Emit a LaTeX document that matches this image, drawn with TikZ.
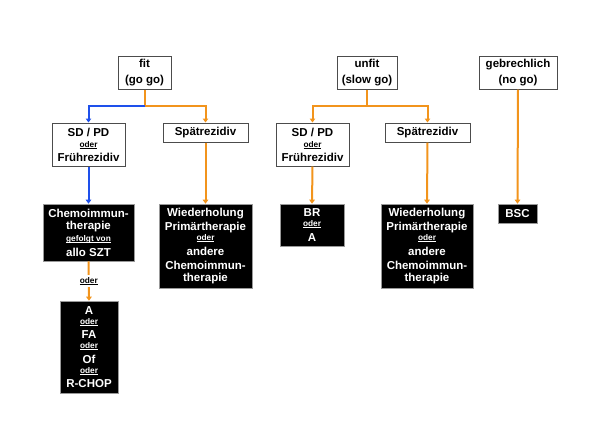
\documentclass[tikz,border=0pt]{standalone}
\usepackage{fontspec}
\setmainfont{Liberation Sans}
\usetikzlibrary{arrows.meta}
\definecolor{orangeline}{RGB}{242,148,28}
\definecolor{blueline}{RGB}{30,80,235}
\newcommand{\smallul}[1]{{\fontsize{8.3}{9}\selectfont\setbox0\hbox{#1}\rlap{\rule[-1.3pt]{\wd0}{0.6pt}}\box0}}
\newcommand{\od}{\smallul{oder}}
\newcommand{\gv}{\smallul{gefolgt von}}

\begin{document}
\begin{tikzpicture}[x=1pt,y=-1pt,
    group/.style={draw=black!70,line width=1pt,fill=white,inner sep=0pt,align=center,
      font=\fontsize{11.5}{11}\selectfont\bfseries},
    therapy/.style={draw=black!40,line width=0.6pt,fill=black,text=white,inner sep=0pt,align=center,
      font=\fontsize{11.5}{10}\selectfont\bfseries},
    org/.style={draw=orangeline,line width=2pt,-{Triangle[length=4pt,width=5.5pt]}},
    blu/.style={draw=blueline,line width=2pt,-{Triangle[length=4pt,width=5.5pt]}},
    plain/.style={line width=2pt}]
  \useasboundingbox (0,0) rectangle (600,424);

  % top row
  \node[group,minimum width=53pt,minimum height=33pt,font=\fontsize{11.5}{16}\selectfont\bfseries] (fit) at (144.5,72.5) {fit\\(go go)};
  \node[group,minimum width=60pt,minimum height=33pt,font=\fontsize{11.5}{16}\selectfont\bfseries] (unfit) at (367,72.5) {unfit\\(slow go)};
  \node[group,minimum width=78pt,minimum height=33pt,font=\fontsize{11.5}{16}\selectfont\bfseries] (geb) at (518,72.5) {gebrechlich\\(no go)};

  % second row
  \node[group,minimum width=73pt,minimum height=43pt] (sdfit) at (88.5,144.5) {SD / PD\\\od\\[3pt]Frührezidiv};
  \node[group,minimum width=85pt,minimum height=19pt] (spfit) at (205.5,132.5) {Spätrezidiv};
  \node[group,minimum width=73pt,minimum height=43pt] (sdunfit) at (312.5,144.5) {SD / PD\\\od\\[3pt]Frührezidiv};
  \node[group,minimum width=85pt,minimum height=19pt] (spunfit) at (427.5,132.5) {Spätrezidiv};

  % therapies
  \node[therapy,minimum width=91pt,minimum height=57pt] (chemo) at (88.5,232.5)
    {Chemoimmun-\\[2.5pt]therapie\\[1.5pt]\gv\\[4pt]allo SZT};
  \node[therapy,minimum width=58pt,minimum height=92pt] (alt) at (89,347)
    {A\\\od\\[4.5pt]FA\\\od\\[4.5pt]Of\\\od\\[4.5pt]R-CHOP};
  \node[therapy,minimum width=93pt,minimum height=84pt] (wiedfit) at (205.5,246)
    {Wiederholung\\[2pt]Primärtherapie\\\od\\[5pt]andere\\[4pt]Chemoimmun-\\[2pt]therapie};
  \node[therapy,minimum width=64pt,minimum height=42pt] (br) at (312,225) {BR\\\od\\[4.5pt]A};
  \node[therapy,minimum width=92pt,minimum height=84pt] (wiedunfit) at (427,246)
    {Wiederholung\\[2pt]Primärtherapie\\\od\\[5pt]andere\\[4pt]Chemoimmun-\\[2pt]therapie};
  \node[therapy,minimum width=39pt,minimum height=19pt] (bsc) at (517.5,213.5) {BSC};

  % branch points
  \coordinate (fitsplit) at (144.5,106);
  \coordinate (unfitsplit) at (367,106);

  % connectors
  \draw[plain,draw=orangeline] (fit.south) -- (fitsplit);
  \draw[blu] (fitsplit) -| (sdfit.north);
  \draw[org] (fitsplit) -| (spfit.north);
  \draw[blu] (sdfit.south) -- (chemo.north);
  \draw[org] (spfit.south) -- (wiedfit.north);
  \draw[org] (chemo.south) -- node[fill=white,inner sep=2.5pt,text=black,font=\bfseries] (oderlbl) {\od} (alt.north);

  \draw[plain,draw=orangeline] (unfit.south) -- (unfitsplit);
  \draw[org] (unfitsplit) -| (sdunfit.north);
  \draw[org] (unfitsplit) -| (spunfit.north);
  \draw[org] (sdunfit.south) -- (br.north);
  \draw[org] (spunfit.south) -- (wiedunfit.north);

  \draw[org] (geb.south) -- (bsc.north);
\end{tikzpicture}
\end{document}
